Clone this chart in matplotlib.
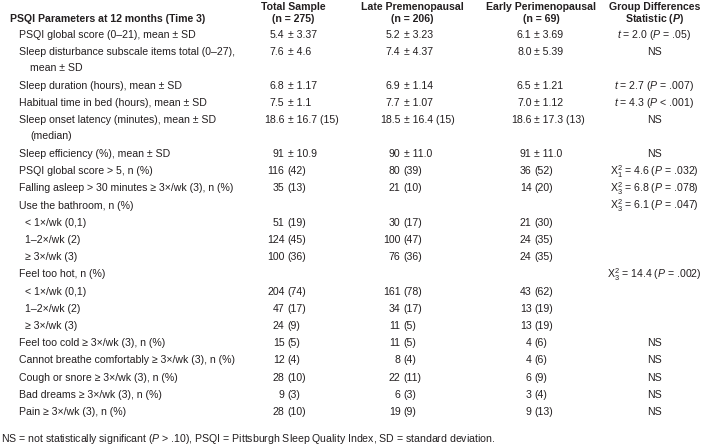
import matplotlib
matplotlib.use("Agg")
import matplotlib.pyplot as plt
from matplotlib import font_manager

# Table content
row_labels = [
    "PSQI global score (0–21), mean ± SD",
    "Sleep disturbance subscale items total (0–27),\nmean ± SD",
    "Sleep duration (hours), mean ± SD",
    "Habitual time in bed (hours), mean ± SD",
    "Sleep onset latency (minutes), mean ± SD\n(median)",
    "Sleep efficiency (%), mean ± SD",
    "PSQI global score > 5, n (%)",
    "Falling asleep > 30 minutes ≥ 3×/wk (3), n (%)",
    "Use the bathroom, n (%)",
    "< 1×/wk (0,1)",
    "1–2×/wk (2)",
    "≥ 3×/wk (3)",
    "Feel too hot, n (%)",
    "< 1×/wk (0,1)",
    "1–2×/wk (2)",
    "≥ 3×/wk (3)",
    "Feel too cold ≥ 3×/wk (3), n (%)",
    "Cannot breathe comfortably ≥ 3×/wk (3), n (%)",
    "Cough or snore ≥ 3×/wk (3), n (%)",
    "Bad dreams ≥ 3×/wk (3), n (%)",
    "Pain ≥ 3×/wk (3), n (%)",
]
row_level = [1, 1, 1, 1, 1, 1, 1, 1, 1, 2, 2, 2, 1, 2, 2, 2, 1, 1, 1, 1, 1]

total_sample = ["5.4 ± 3.37", "7.6 ± 4.6", "6.8 ± 1.17", "7.5 ± 1.1", "18.6 ± 16.7 (15)",
                "91 ± 10.9", "116 (42)", "35 (13)", "", "51 (19)", "124 (45)", "100 (36)",
                "", "204 (74)", "47 (17)", "24 (9)", "15 (5)", "12 (4)", "28 (10)", "9 (3)",
                "28 (10)"]
late_premeno = ["5.2 ± 3.23", "7.4 ± 4.37", "6.9 ± 1.14", "7.7 ± 1.07", "18.5 ± 16.4 (15)",
                "90 ± 11.0", "80 (39)", "21 (10)", "", "30 (17)", "100 (47)", "76 (36)",
                "", "161 (78)", "34 (17)", "11 (5)", "11 (5)", "8 (4)", "22 (11)", "6 (3)",
                "19 (9)"]
early_perimeno = ["6.1 ± 3.69", "8.0 ± 5.39", "6.5 ± 1.21", "7.0 ± 1.12", "18.6 ± 17.3 (13)",
                  "91 ± 11.0", "36 (52)", "14 (20)", "", "21 (30)", "24 (35)", "24 (35)",
                  "", "43 (62)", "13 (19)", "13 (19)", "4 (6)", "4 (6)", "6 (9)", "3 (4)",
                  "9 (13)"]
group_stat = [
    r"$\mathit{t}$ = 2.0 ($\mathit{P}$ = .05)", "NS",
    r"$\mathit{t}$ = 2.7 ($\mathit{P}$ = .007)", r"$\mathit{t}$ = 4.3 ($\mathit{P}$ < .001)",
    "NS", "NS",
    r"X$^{2}_{1}$ = 4.6 ($\mathit{P}$ = .032)", r"X$^{2}_{3}$ = 6.8 ($\mathit{P}$ = .078)",
    r"X$^{2}_{3}$ = 6.1 ($\mathit{P}$ = .047)", "", "", "",
    r"X$^{2}_{3}$ = 14.4 ($\mathit{P}$ = .002)", "", "", "",
    "NS", "NS", "NS", "NS", "NS",
]
col_heads = [("Total Sample", "(n = 275)"),
             ("Late Premenopausal", "(n = 206)"),
             ("Early Perimenopausal", "(n = 69)"),
             ("Group Differences", r"Statistic ($\mathbfit{P}$)")]
title = "PSQI Parameters at 12 months (Time 3)"
footnote = (r"NS = not statistically significant ($\mathit{P}$ > .10), PSQI = Pittsburgh "
            "Sleep Quality Index, SD = standard deviation.")

# Font: narrow Arial-like if available
names = {f.name for f in font_manager.fontManager.ttflist}
fam = "Liberation Sans Narrow" if "Liberation Sans Narrow" in names else "Liberation Sans"
plt.rcParams["font.family"] = [fam, "DejaVu Sans"]
plt.rcParams["mathtext.fontset"] = "custom"
plt.rcParams["mathtext.rm"] = fam
plt.rcParams["mathtext.it"] = fam + ":italic"
plt.rcParams["mathtext.bf"] = fam + ":bold"
plt.rcParams["mathtext.bfit"] = fam + ":italic:bold"

FS = 8.4 if fam.endswith("Narrow") else 7.6
INK = "#231f20"

fig = plt.figure(figsize=(7.01, 4.47), dpi=100)
ax = fig.add_axes([0, 0, 1, 1])
ax.set_xlim(0, 701)
ax.set_ylim(447, 0)
ax.axis("off")

col_anchor = [286, 402, 533]
col_center = [293, 412, 541, 655]
stat_x = 654


def put_cell(x, y, s):
    if not s:
        return
    key = "±" if "±" in s else "("
    i = s.index(key)
    ax.text(x - 1.5, y, s[:i].strip(), ha="right", va="center", fontsize=FS, color=INK)
    ax.text(x + 1.5, y, s[i:], ha="left", va="center", fontsize=FS, color=INK)


# header
for (l1, l2), xc in zip(col_heads, col_center):
    ax.text(xc, 6.5, l1, ha="center", va="center", fontsize=FS, fontweight="bold", color=INK)
    ax.text(xc, 19.5, l2, ha="center", va="center", fontsize=FS, fontweight="bold", color=INK)
ax.text(10, 19.5, title, ha="left", va="center", fontsize=FS, fontweight="bold", color=INK)

y = 35
for k, lab in enumerate(row_labels):
    lines = lab.split("\n")
    x0 = 19 if row_level[k] == 1 else 25
    ax.text(x0, y, lines[0], ha="left", va="center", fontsize=FS, color=INK)
    for j, extra in enumerate(lines[1:], start=1):
        ax.text(30, y + 15.5 * j, extra, ha="left", va="center", fontsize=FS, color=INK)
    for xa, vals in zip(col_anchor, [total_sample, late_premeno, early_perimeno]):
        put_cell(xa, y, vals[k])
    if group_stat[k]:
        ax.text(stat_x, y, group_stat[k], ha="center", va="center", fontsize=FS, color=INK)
    y += 17.2 + 16.5 * (len(lines) - 1)

ax.text(1, 439, footnote, ha="left", va="center", fontsize=FS, color=INK)

fig.savefig("out.png", dpi=100, facecolor="white")
